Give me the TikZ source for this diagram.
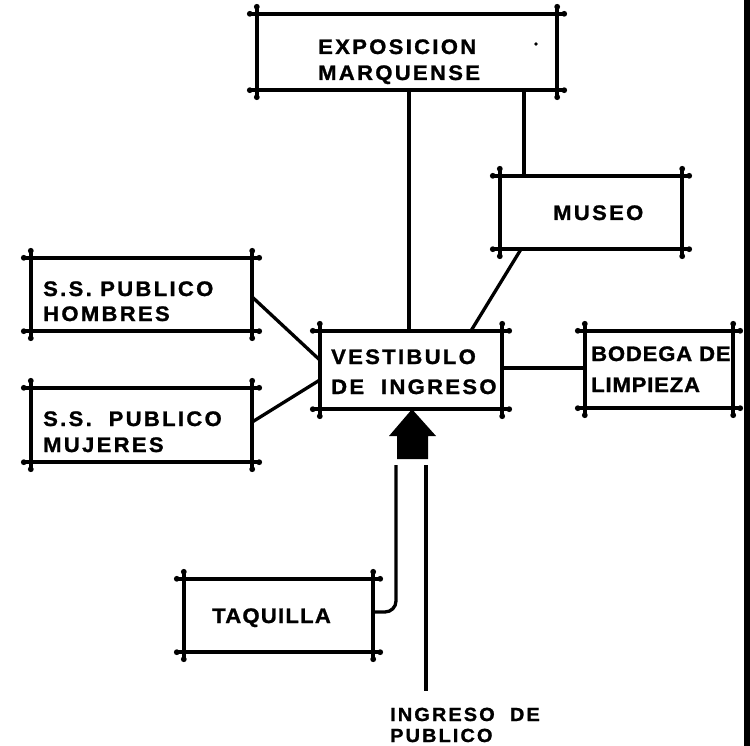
\documentclass[tikz,border=0pt]{standalone}
\usepackage{fontspec}
\newfontfamily\lblfont{Liberation Sans}[UprightFont=* Bold, BoldFont=* Bold, LetterSpace=11, FakeStretch=1.05, FakeBold=1.2]
\usetikzlibrary{fit}
\tikzset{
  boxnode/.style={inner sep=0pt, draw=none},
  boxline/.style={line width=4.2pt, line cap=round},
  conn/.style={line width=3.3pt},
  lbl/.style={font=\lblfont\fontsize{21}{24}\selectfont, inner sep=0pt, anchor=base west},
  lblsmall/.style={lbl, font=\lblfont\fontsize{19}{22}\selectfont},
}
\newcommand\abox[5]{%
  \coordinate (#1-a) at (#2,#3);
  \coordinate (#1-b) at (#4,#5);
  \node[boxnode, fit=(#1-a)(#1-b)] (#1) {};
  \draw[boxline] ([xshift=-7pt]#1.north west) -- ([xshift=7pt]#1.north east);
  \draw[boxline] ([xshift=-7pt]#1.south west) -- ([xshift=7pt]#1.south east);
  \draw[boxline] ([yshift=7pt]#1.north west) -- ([yshift=-7pt]#1.south west);
  \draw[boxline] ([yshift=7pt]#1.north east) -- ([yshift=-7pt]#1.south east);
  \foreach \p/\dx/\dy in {north west/-7/0, north east/7/0, south west/-7/0, south east/7/0,
                          north west/0/7, north east/0/7, south west/0/-7, south east/0/-7}
    {\fill ([xshift=\dx pt, yshift=\dy pt]#1.\p) circle (2.9pt);}
}
\begin{document}
\begin{tikzpicture}[x=1pt,y=-1pt]
\useasboundingbox (0,0) rectangle (750,746);
\fill[white] (0,0) rectangle (750,746);

% boxes
\abox{expo}{257}{14}{557}{90}
\abox{museo}{500}{176}{682}{249}
\abox{vest}{320}{331}{502}{409}
\abox{bod}{585}{331}{733}{408}
\abox{hom}{31}{258}{252}{331}
\abox{muj}{31}{388}{252}{462}
\abox{taq}{184}{579}{373}{652}

% right border bar
\fill (744,0) rectangle (750,746);

% texts
\node[lbl] (t-expo1) at (318,54) {EXPOSICION};
\node[lbl] (t-expo2) at (318,80) {MARQUENSE};
\node[lbl] (t-mus) at (553,220) {MUSEO};
\node[lbl] (t-ves1) at (331,364) {VESTIBULO};
\node[lbl] (t-ves2) at (331,394) {DE\ \ INGRESO};
\node[lbl] (t-bod1) at (591,361) {\addfontfeature{LetterSpace=4}BODEGA DE};
\node[lbl] (t-bod2) at (591,392) {\addfontfeature{LetterSpace=4}LIMPIEZA};
\node[lbl] (t-hom1) at (43,296) {S.S. PUBLICO};
\node[lbl] (t-hom2) at (43,321) {HOMBRES};
\node[lbl] (t-muj1) at (43,426) {S.S.\ \ PUBLICO};
\node[lbl] (t-muj2) at (43,452) {MUJERES};
\node[lbl] (t-taq) at (212,623) {\addfontfeature{LetterSpace=6}TAQUILLA};
\node[lblsmall] (t-ing1) at (390,721) {INGRESO\ \ DE};
\node[lblsmall] (t-ing2) at (390,742) {PUBLICO};

% helper coordinates
\coordinate (xa) at (409,0);
\coordinate (xb) at (524,0);
\coordinate (ya) at (0,297);
\coordinate (yb) at (0,360);
\coordinate (yc) at (0,422);
\coordinate (yd) at (0,380);
\coordinate (ye) at (0,368);
\coordinate (yf) at (0,612);
\coordinate (m1) at (521,249);
\coordinate (v1) at (471,331);

% connectors
\draw[conn] (expo.south -| xa) -- (vest.north -| xa);
\draw[conn] (expo.south -| xb) -- (museo.north -| xb);
\draw[conn] (museo.south -| m1) -- (vest.north -| v1);
\draw[conn] (hom.east |- ya) -- (vest.west |- yb);
\draw[conn] (muj.east |- yc) -- (vest.west |- yd);
\draw[conn] (vest.east |- ye) -- (bod.west |- ye);

% entrance arrow
\coordinate (ap) at (412,0);
\fill (vest.south -| ap) -- (436,436) -- (428,436) -- (428,459) -- (397,459) -- (397,436) -- (389,436) -- cycle;

% entrance lines
\coordinate (s1) at (396,465);
\coordinate (s2) at (426,465);
\coordinate (s3) at (426,691);
\draw[conn, rounded corners=11pt] (s1) |- (taq.east |- yf);
\draw[conn] (s2) -- (s3);

% speck in the top box
\fill (536,44) circle (1.8pt);
\end{tikzpicture}
\end{document}
